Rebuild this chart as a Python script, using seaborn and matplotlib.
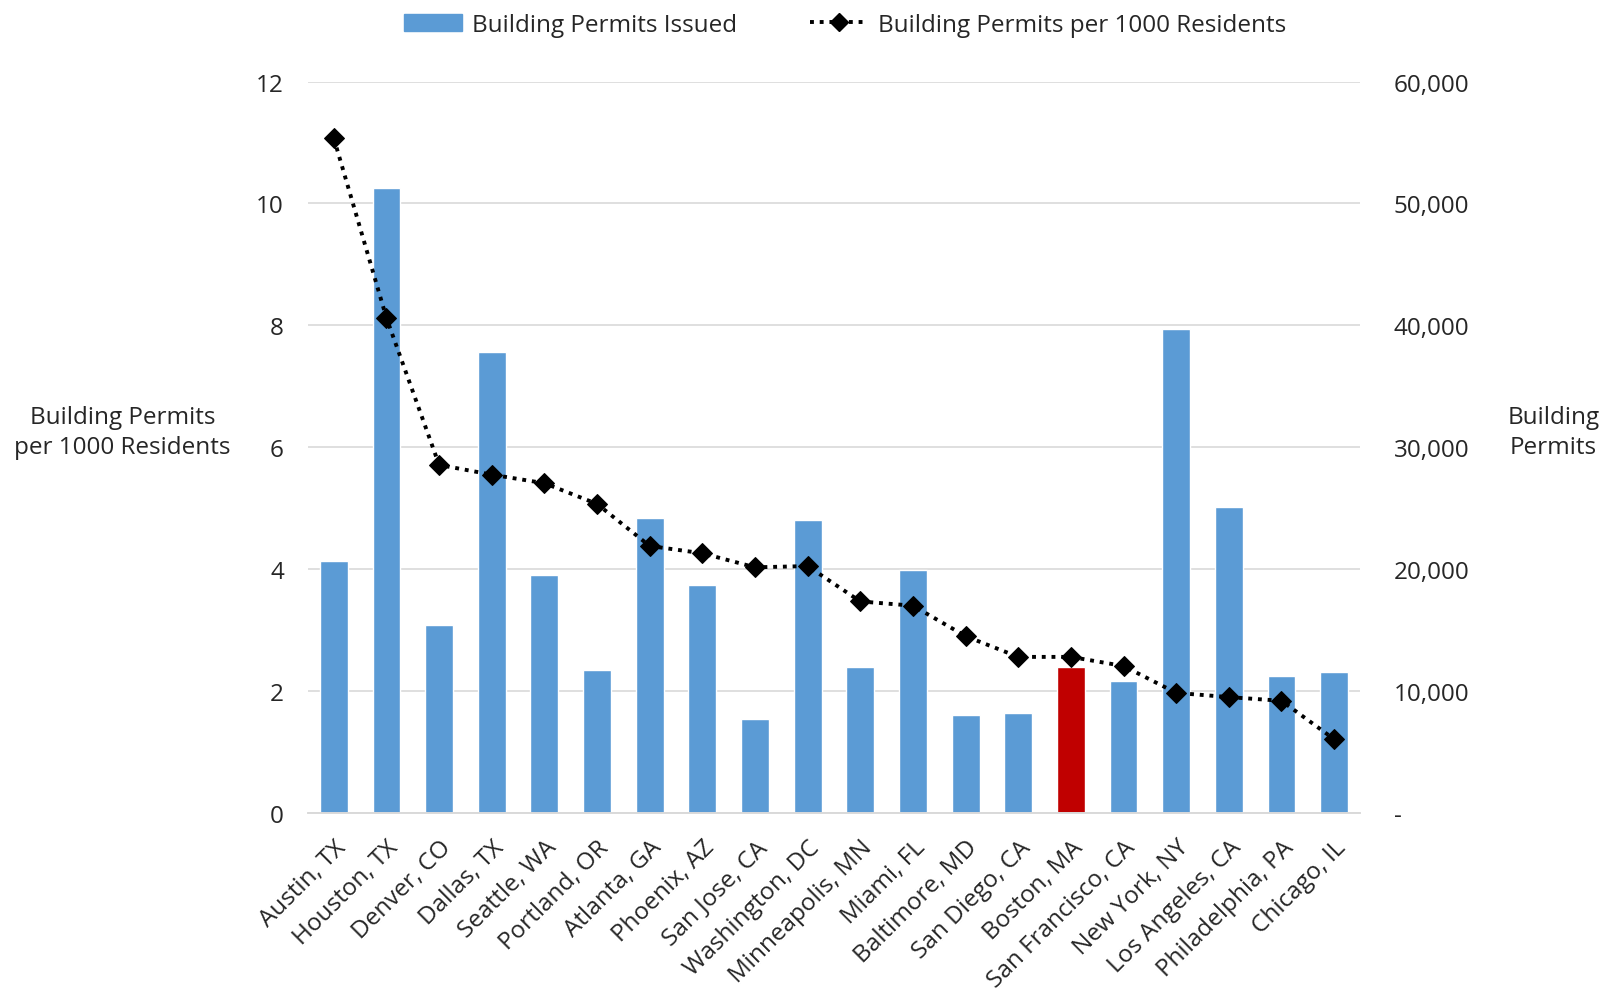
import matplotlib
matplotlib.use("Agg")
import matplotlib.pyplot as plt
import seaborn as sns
import numpy as np
from matplotlib.ticker import FuncFormatter, MultipleLocator
from matplotlib.lines import Line2D
from matplotlib.patches import Patch

cities = ["Austin, TX", "Houston, TX", "Denver, CO", "Dallas, TX", "Seattle, WA",
          "Portland, OR", "Atlanta, GA", "Phoenix, AZ", "San Jose, CA", "Washington, DC",
          "Minneapolis, MN", "Miami, FL", "Baltimore, MD", "San Diego, CA", "Boston, MA",
          "San Francisco, CA", "New York, NY", "Los Angeles, CA", "Philadelphia, PA", "Chicago, IL"]
permits = [20700, 51300, 15400, 37800, 19500, 11700, 24200, 18700, 7700, 24000,
           12000, 19900, 8000, 8200, 12000, 10800, 39700, 25100, 11200, 11600]
per_1000 = [11.07, 8.12, 5.71, 5.55, 5.41, 5.07, 4.38, 4.26, 4.03, 4.05,
            3.47, 3.40, 2.90, 2.56, 2.56, 2.41, 1.97, 1.90, 1.84, 1.21]
highlight = "Boston, MA"

sns.set_style("white")
plt.rcParams['font.family'] = ['Open Sans', 'DejaVu Sans']
FS_TICK = 17.5
FS_CAT = 17.5
FS_TXT = 17.5
TXT = "#262626"

fig = plt.figure(figsize=(16.1, 9.95), dpi=100)
ax_r = fig.add_axes([0.191, 0.182, 0.654, 0.735])   # bars, right scale
ax_l = ax_r.twinx()                                  # line, left scale

blue = "#5B9BD5"
red = "#C00000"
palette = {c: (red if c == highlight else blue) for c in cities}
sns.barplot(x=cities, y=permits, hue=cities, palette=palette, legend=False,
            width=0.53, ax=ax_r, saturation=1, zorder=2)
ax_r.set_ylim(0, 60000)
ax_r.yaxis.set_major_locator(MultipleLocator(10000))
ax_r.yaxis.set_major_formatter(FuncFormatter(lambda v, p: "-" if v == 0 else f"{int(v):,}"))
ax_r.yaxis.tick_right()
ax_r.yaxis.set_label_position("right")
ax_r.grid(axis='y', color="#D9D9D9", linewidth=1.2, zorder=0)
ax_r.set_axisbelow(True)

x = np.arange(len(cities))
sns.lineplot(x=x, y=per_1000, ax=ax_l, color="black", linestyle=(0, (1, 1.5)),
             linewidth=2.8, marker="D", markersize=10, markeredgecolor="black")
ax_l.set_ylim(0, 12)
ax_l.yaxis.set_major_locator(MultipleLocator(2))
ax_l.yaxis.tick_left()
ax_l.yaxis.set_label_position("left")
ax_l.set_xlim(-0.5, len(cities) - 0.5)
ax_r.set_xlim(-0.5, len(cities) - 0.5)

for a in (ax_r, ax_l):
    for s in ["top", "left", "right"]:
        a.spines[s].set_visible(False)
    a.spines["bottom"].set_color("#D9D9D9")
    a.spines["bottom"].set_linewidth(1.2)
    a.tick_params(axis='both', length=0, labelsize=FS_TICK, labelcolor=TXT)
    a.set_xlabel("")
    a.set_ylabel("")

ax_l.tick_params(axis='y', pad=17)
ax_r.tick_params(axis='y', pad=24)
ax_l.tick_params(axis='x', labelbottom=False)
ax_r.set_xticks(x)
ax_r.set_xticklabels(cities, rotation=45, ha="right", rotation_mode="anchor",
                     fontsize=FS_CAT, color=TXT)
ax_r.tick_params(axis='x', pad=16)

fig.text(0.076, 0.565, "Building Permits\nper 1000 Residents", ha="center", va="center",
         fontsize=FS_TXT, color=TXT, linespacing=1.35)
fig.text(0.965, 0.565, "Building\nPermits", ha="center", va="center",
         fontsize=FS_TXT, color=TXT, linespacing=1.35)

handles = [Patch(facecolor=blue, edgecolor=blue),
           Line2D([0], [0], color="black", linestyle=(0, (1, 1.5)), linewidth=2.8,
                  marker="D", markersize=9)]
fig.legend(handles, ["Building Permits Issued", "Building Permits per 1000 Residents"],
           loc="upper center", bbox_to_anchor=(0.525, 1.008), ncol=2, frameon=False,
           fontsize=FS_TXT, handlelength=2.4, handletextpad=0.4, columnspacing=3.0,
           labelcolor=TXT)

fig.savefig("out.png", dpi=100)
